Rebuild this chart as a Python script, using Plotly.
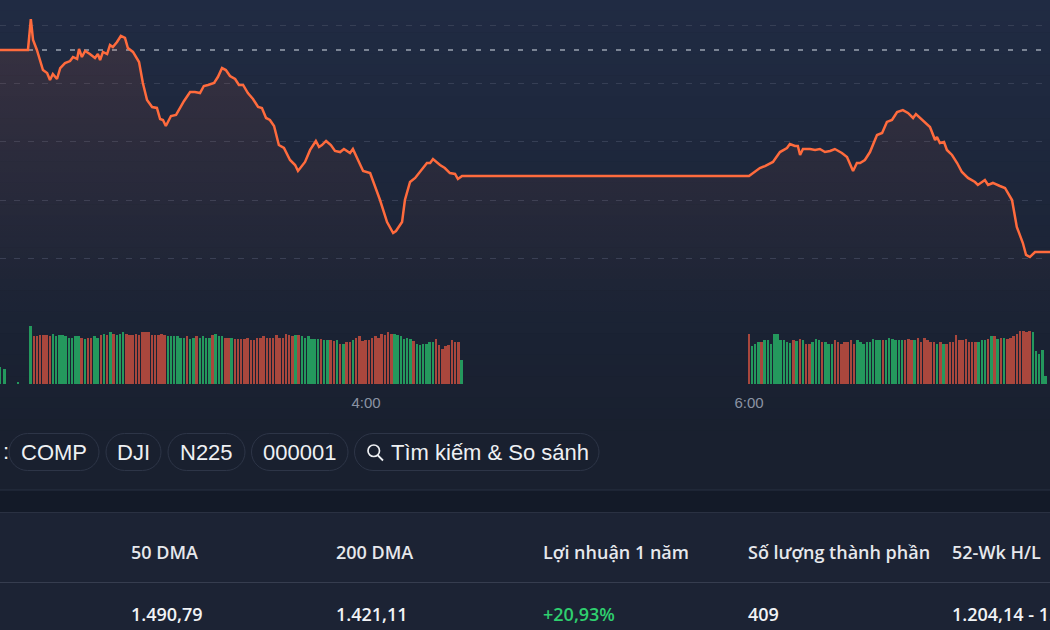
import plotly.graph_objects as go

W, H = 1050, 630

# ---------------- DATA ----------------
prev_close = 1657.86  # reference (previous close) level

# intraday index line: time in minutes after 00:00 UTC, index value
line_time = [125.3, 134.1, 135.0, 135.7, 136.9, 138.8, 140.1, 141.0, 141.9, 143.2,
             144.2, 145.7, 147.3, 148.2, 149.5, 150.1, 151.0, 152.0, 153.5, 155.1,
             156.0, 156.7, 157.6, 158.9, 159.8, 160.7, 162.0, 163.2, 164.5, 165.4,
             167.0, 168.9, 170.1, 171.4, 173.0, 174.5, 175.5, 176.4, 177.3, 178.9,
             180.5, 183.0, 184.9, 186.4, 188.0, 189.2, 190.5, 192.4, 193.6, 194.9,
             196.1, 197.4, 199.0, 200.2, 201.5, 203.0, 204.6, 206.2, 207.4, 208.7,
             209.9, 211.2, 212.7, 214.3, 216.2, 217.8, 218.7, 220.9, 222.5, 224.3,
             225.3, 226.2, 227.5, 229.0, 230.3, 231.9, 233.1, 235.0, 235.9, 239.1,
             241.3, 244.4, 246.6, 248.5, 249.4, 251.3, 252.2, 253.8, 255.4, 259.1,
             260.1, 261.0, 263.2, 264.7, 266.3, 267.9, 268.8, 270.1, 360.0, 362.5,
             363.4, 365.0, 367.5, 369.7, 371.9, 372.8, 374.4, 375.3, 376.0, 376.9,
             379.1, 380.7, 382.2, 383.8, 385.4, 386.9, 389.1, 390.7, 391.6, 392.6,
             393.8, 394.8, 396.3, 397.9, 400.1, 401.7, 403.2, 404.8, 406.4, 408.2,
             409.8, 411.4, 412.3, 413.6, 415.1, 416.7, 418.3, 418.9, 419.8, 421.1,
             422.0, 423.6, 425.2, 426.7, 428.6, 430.8, 431.7, 433.9, 434.9, 436.4,
             438.6, 440.2, 442.4, 443.9, 445.8, 446.8, 448.0, 449.6, 454.3]
line_price = [1657.86, 1657.86, 1660.51, 1658.71, 1657.86, 1656.14, 1655.89, 1655.29, 1655.80, 1655.37,
              1656.31, 1656.74, 1656.91, 1657.26, 1657.09, 1657.94, 1657.26, 1657.77, 1657.51, 1657.17,
              1657.51, 1657.00, 1657.69, 1657.51, 1658.29, 1658.11, 1658.54, 1659.06, 1658.89, 1658.03,
              1657.69, 1656.83, 1655.03, 1653.57, 1652.97, 1652.89, 1651.94, 1651.86, 1651.34, 1652.20,
              1652.29, 1653.49, 1654.26, 1654.26, 1654.17, 1654.77, 1654.86, 1655.03, 1655.54, 1656.31,
              1656.14, 1655.63, 1655.37, 1654.86, 1654.86, 1654.17, 1653.66, 1652.97, 1652.89, 1652.03,
              1651.86, 1651.34, 1649.71, 1649.46, 1648.43, 1648.00, 1647.49, 1648.26, 1649.29, 1650.06,
              1649.54, 1649.71, 1650.06, 1649.71, 1649.20, 1649.11, 1649.37, 1649.03, 1649.37, 1647.49,
              1647.31, 1645.00, 1643.11, 1642.17, 1642.34, 1643.11, 1645.00, 1646.54, 1646.89, 1648.17,
              1648.17, 1648.51, 1648.00, 1647.74, 1647.31, 1647.23, 1646.80, 1647.06, 1647.06, 1647.57,
              1647.74, 1647.91, 1648.26, 1649.11, 1649.46, 1649.80, 1649.63, 1649.63, 1648.86, 1649.37,
              1649.37, 1649.29, 1649.37, 1649.11, 1649.20, 1649.37, 1649.03, 1648.69, 1648.17, 1647.49,
              1648.17, 1648.17, 1648.43, 1649.11, 1650.57, 1650.74, 1651.69, 1651.86, 1652.54, 1652.71,
              1652.46, 1652.03, 1652.37, 1652.03, 1651.60, 1651.26, 1650.14, 1650.40, 1649.89, 1649.97,
              1649.29, 1648.86, 1648.17, 1647.40, 1646.89, 1646.54, 1646.29, 1646.71, 1646.29, 1646.46,
              1646.20, 1646.03, 1645.00, 1642.69, 1641.31, 1640.29, 1640.11, 1640.54, 1640.54]

# volume bars (per minute); direction 1 = up (green), -1 = down (red)
preopen_time = [125.4, 126.9, 131.0]
preopen_vol = [17.0, 15.0, 2.0]
preopen_dir = [1, 1, 1]

morning_start, morning_end = 135, 270      # 2:15 - 4:30 UTC
afternoon_start, afternoon_end = 360, 453  # 6:00 - 7:33 UTC

morning_vol = [57.7, 48.3, 48.3, 49.3, 49.3, 49.3, 48.3, 50.3, 47.7, 49.3,
               49.3, 48.3, 46.3, 46.3, 48.3, 47.7, 46.0, 44.7, 46.0, 46.0,
               47.7, 46.3, 49.3, 50.3, 49.3, 52.0, 50.3, 49.3, 50.3, 51.7,
               50.3, 49.3, 49.3, 50.3, 49.3, 51.7, 51.7, 51.7, 49.3, 49.3,
               49.3, 50.3, 49.3, 48.3, 48.3, 48.3, 47.7, 46.0, 46.3, 47.7,
               45.3, 46.3, 47.7, 46.3, 48.3, 46.3, 46.3, 49.3, 50.3, 48.3,
               47.7, 46.3, 46.3, 46.3, 45.3, 45.3, 45.3,
               45.0, 46.0, 43.7, 43.7, 46.0, 46.0, 47.7, 46.0, 46.0, 46.0,
               49.3, 46.0, 46.0, 50.3, 49.3, 47.7, 49.3, 49.3, 47.7, 46.0,
               47.7, 45.0, 45.0, 45.0, 45.0, 43.7, 43.7, 43.7, 42.7, 43.7,
               40.3, 40.3, 41.7, 41.7, 44.3, 46.0, 47.7, 42.7, 43.7, 43.7,
               46.0, 47.7, 46.0, 50.3, 49.3, 51.7, 50.3, 50.3, 49.3, 48.3,
               45.0, 46.0, 45.0, 42.7, 40.3, 39.3, 40.3, 40.3, 41.7, 41.7,
               45.0, 39.3, 35.0, 38.3, 39.3, 43.7, 41.7, 41.7, 24.3]
morning_dir = [1, -1, -1, -1, -1, -1, -1, 1, 1, 1,
               1, 1, 1, 1, 1, 1, -1, 1, -1, -1,
               1, 1, -1, 1, -1, 1, -1, 1, 1, 1,
               -1, -1, -1, -1, -1, -1, -1, -1, -1, -1,
               -1, -1, -1, 1, 1, 1, 1, 1, 1, -1,
               1, 1, -1, 1, 1, 1, 1, -1, 1, 1,
               1, -1, -1, 1, -1, -1, -1,
               -1, -1, -1, -1, -1, -1, -1, -1, -1, -1,
               -1, -1, -1, -1, -1, -1, 1, -1, 1, 1,
               1, 1, 1, 1, -1, 1, 1, -1, -1, 1,
               -1, 1, -1, -1, 1, -1, -1, -1, -1, -1,
               -1, -1, -1, -1, -1, -1, -1, 1, 1, 1,
               1, 1, 1, -1, 1, 1, 1, 1, 1, 1,
               -1, -1, -1, -1, -1, -1, -1, -1, 1]

afternoon_vol = [50.3, 38.3, 40.3, 42.0, 42.0, 43.7, 44.3, 40.3, 50.3, 50.3,
                 43.7, 43.7, 42.0, 41.0, 43.7, 42.7, 45.0, 43.7, 40.3, 40.3,
                 42.0, 45.0, 43.7, 42.0, 42.0, 40.3, 40.3, 43.7, 42.0, 40.3,
                 42.0, 42.0, 43.7, 40.3, 43.7, 42.0, 40.3, 42.0, 42.0, 45.0,
                 43.7, 44.3, 43.7, 43.7, 46.0, 45.0, 43.7, 44.3, 44.3, 43.7,
                 45.0, 43.7, 43.7, 46.0, 42.0, 46.0, 43.7, 42.0, 42.0, 40.3,
                 42.0, 40.3, 40.3, 42.0, 42.0, 49.3, 43.7, 44.3, 45.0, 42.0,
                 42.0, 42.0, 42.0, 44.3, 43.7, 45.0, 47.7, 47.7, 45.0, 46.0,
                 46.0, 45.0, 46.0, 48.3, 50.3, 52.7, 52.7, 51.7, 52.7, 51.7,
                 32.7, 30.0, 33.7, 7.7]
afternoon_dir = [-1, 1, 1, 1, -1, 1, 1, 1, 1, 1,
                 1, 1, 1, 1, -1, 1, -1, 1, -1, -1,
                 1, 1, 1, -1, 1, 1, 1, -1, -1, -1,
                 -1, -1, -1, -1, 1, 1, 1, 1, 1, 1,
                 1, 1, -1, 1, 1, 1, 1, 1, 1, -1,
                 -1, -1, 1, -1, -1, -1, -1, -1, -1, 1,
                 -1, 1, -1, -1, -1, -1, -1, -1, -1, -1,
                 -1, -1, 1, 1, 1, -1, 1, -1, 1, -1,
                 1, -1, -1, -1, -1, -1, -1, -1, -1, 1,
                 1, 1, 1, 1]

tick_vals = [240, 360]
tick_text = ["4:00", "6:00"]
grid_levels = [1640, 1645, 1650, 1655, 1660]

compare_symbols = ["COMP", "DJI", "N225", "000001"]
search_label = "Tìm kiếm & So sánh"
table_headers = ["50 DMA", "200 DMA", "Lợi nhuận 1 năm", "Số lượng thành phần", "52-Wk H/L"]
table_values = ["1.490,79", "1.421,11", "+20,93%", "409", "1.204,14 - 1.665,67"]

# ---------------- STYLE HELPERS ----------------
LINE_C = "#ff6b3d"
UP_C = "#24985d"
DN_C = "#a9473d"
CHIP_FONT = dict(family="Liberation Sans, Arial", size=22, color="#eef0f3")


def px_x(px):
    return px / W


def px_y(py):
    return 1 - py / H


def pill_path(x0, x1, y0, y1):
    r = (y1 - y0) / 2
    X, Y = px_x, px_y
    return (f"M {X(x0 + r)},{Y(y0)} L {X(x1 - r)},{Y(y0)} "
            f"C {X(x1 - r * 0.45)},{Y(y0)} {X(x1)},{Y(y0 + r * 0.45)} {X(x1)},{Y(y0 + r)} "
            f"C {X(x1)},{Y(y1 - r * 0.45)} {X(x1 - r * 0.45)},{Y(y1)} {X(x1 - r)},{Y(y1)} "
            f"L {X(x0 + r)},{Y(y1)} "
            f"C {X(x0 + r * 0.45)},{Y(y1)} {X(x0)},{Y(y1 - r * 0.45)} {X(x0)},{Y(y0 + r)} "
            f"C {X(x0)},{Y(y0 + r * 0.45)} {X(x0 + r * 0.45)},{Y(y0)} {X(x0 + r)},{Y(y0)} Z")


# ---------------- FIGURE ----------------
vol_time = preopen_time + list(range(morning_start, morning_end + 1)) + list(range(afternoon_start, afternoon_end + 1))
vol_vals = preopen_vol + morning_vol + afternoon_vol
vol_dirs = preopen_dir + morning_dir + afternoon_dir
vol_colors = [UP_C if d > 0 else DN_C for d in vol_dirs]

# price pane spans pixel rows 0..320, grid 1660 at row 25, 5 points = 58.33 px
ppp = 58.333 / 5
y_top = 1660 + 25 / ppp
y_bot = 1660 - (320 - 25) / ppp

fig = go.Figure()
fig.add_trace(go.Scatter(
    x=line_time, y=line_price, mode="lines", xaxis="x", yaxis="y",
    line=dict(color=LINE_C, width=2.5),
    fill="tozeroy",
    fillgradient=dict(type="vertical",
                      colorscale=[[0, "rgba(255,107,61,0.0)"], [1, "rgba(255,107,61,0.12)"]],
                      start=y_bot, stop=y_top),
    hoverinfo="skip"))
fig.add_trace(go.Bar(
    x=vol_time, y=vol_vals, xaxis="x", yaxis="y2",
    marker=dict(color=vol_colors, line=dict(width=0)), width=0.62,
    hoverinfo="skip"))

shapes = []
# background vertical gradient (chart area)
top_c = (32, 43, 67)
bot_c = (25, 32, 47)
nb = 40
for i in range(nb):
    f = i / (nb - 1)
    c = tuple(round(top_c[k] + (bot_c[k] - top_c[k]) * f) for k in range(3))
    y0 = 430 * i / nb
    y1 = 430 * (i + 1) / nb + 0.6
    shapes.append(dict(type="rect", xref="paper", yref="paper", x0=0, x1=1,
                       y0=px_y(y1), y1=px_y(y0), fillcolor=f"rgb{c}", line=dict(width=0), layer="below"))
# separator strip and table background
shapes.append(dict(type="rect", xref="paper", yref="paper", x0=0, x1=1, y0=px_y(512), y1=px_y(490),
                   fillcolor="#131a28", line=dict(width=0), layer="below"))
shapes.append(dict(type="rect", xref="paper", yref="paper", x0=0, x1=1, y0=0, y1=px_y(513),
                   fillcolor="#1c2334", line=dict(width=0), layer="below"))
for yy, col in [(490, "#283042"), (512.5, "#2a3142"), (582.5, "#363d4f")]:
    shapes.append(dict(type="line", xref="paper", yref="paper", x0=0, x1=1, y0=px_y(yy), y1=px_y(yy),
                       line=dict(color=col, width=1), layer="below"))
# previous close reference line
shapes.append(dict(type="line", xref="paper", yref="y", x0=0, x1=1, y0=prev_close, y1=prev_close,
                   line=dict(color="#9ba2b0", width=1.6, dash="5px,9px"), layer="below"))

# chips
chip_boxes = [(9, 99), (106, 161), (168, 245), (251.5, 348)]
chip_y0, chip_y1 = 433.5, 470.5
text_y = 452
annotations = []
for (x0, x1), label in zip(chip_boxes, compare_symbols):
    shapes.append(dict(type="path", xref="paper", yref="paper", path=pill_path(x0, x1, chip_y0, chip_y1),
                       line=dict(color="#2d3547", width=1), fillcolor="rgba(0,0,0,0)"))
    annotations.append(dict(x=px_x((x0 + x1) / 2), y=px_y(text_y), xref="paper", yref="paper", text=label,
                            showarrow=False, xanchor="center", yanchor="middle", font=CHIP_FONT))
shapes.append(dict(type="path", xref="paper", yref="paper", path=pill_path(354.5, 599, chip_y0, chip_y1),
                   line=dict(color="#2d3547", width=1), fillcolor="rgba(0,0,0,0)"))
# magnifier icon
shapes.append(dict(type="circle", xref="paper", yref="paper", x0=px_x(368), x1=px_x(379.5), y0=px_y(456.5),
                   y1=px_y(445), line=dict(color="#eef0f3", width=1.7)))
shapes.append(dict(type="line", xref="paper", yref="paper", x0=px_x(377.5), x1=px_x(383), y0=px_y(455),
                   y1=px_y(460.5), line=dict(color="#eef0f3", width=1.8)))
annotations.append(dict(x=px_x(389), y=px_y(text_y), xref="paper", yref="paper", text=search_label,
                        showarrow=False, xanchor="left", yanchor="middle", font=CHIP_FONT))
annotations.append(dict(x=px_x(0.5), y=px_y(text_y - 1), xref="paper", yref="paper", text=":",
                        showarrow=False, xanchor="left", yanchor="middle", font=CHIP_FONT))

# table
col_x = [130, 335, 542, 747, 951]
for cx, head, val in zip(col_x, table_headers, table_values):
    annotations.append(dict(x=px_x(cx - 1.5), y=px_y(552), xref="paper", yref="paper", text=head,
                            showarrow=False, xanchor="left", yanchor="middle",
                            font=dict(family="Open Sans", size=18, color="#e6e8ec", weight=600)))
    vcol = "#2fcf6f" if val.startswith("+") else "#f1f3f6"
    annotations.append(dict(x=px_x(cx - 1.5), y=px_y(614), xref="paper", yref="paper", text=val,
                            showarrow=False, xanchor="left", yanchor="middle",
                            font=dict(family="Open Sans", size=18, color=vcol, weight=600)))

fig.update_layout(
    width=W, height=H, margin=dict(l=0, r=0, t=0, b=0),
    paper_bgcolor="#19202f", plot_bgcolor="rgba(0,0,0,0)",
    showlegend=False, bargap=0,
    xaxis=dict(domain=[0, 1], range=[125.34, 454.3], anchor="y2",
               tickvals=tick_vals, ticktext=tick_text, showgrid=False, zeroline=False,
               showline=False, ticks="", ticklabelstandoff=8,
               tickfont=dict(family="Liberation Sans, Arial", size=15, color="#8b93a4")),
    yaxis=dict(domain=[px_y(320), 1], range=[y_bot, y_top], tickvals=grid_levels,
               showticklabels=False, gridcolor="#363f55", griddash="6px,8px", gridwidth=1,
               zeroline=False, showline=False),
    yaxis2=dict(domain=[px_y(384), px_y(320)], range=[0, 64], showgrid=False,
                showticklabels=False, zeroline=False, showline=False),
    shapes=shapes, annotations=annotations,
)

fig.write_html("out.html")
